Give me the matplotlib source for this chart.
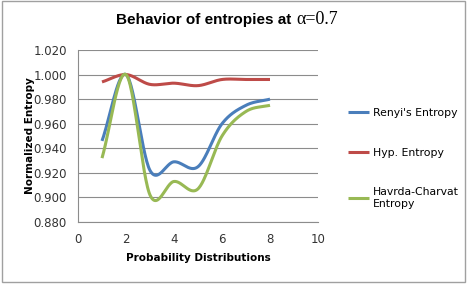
import numpy as np
import matplotlib
matplotlib.use("Agg")
import matplotlib.pyplot as plt
from matplotlib.patches import Rectangle

x = [1, 2, 3, 4, 5, 6, 7, 8]
renyi = [0.946, 1.000, 0.922, 0.929, 0.925, 0.960, 0.975, 0.980]
hyp = [0.994, 1.000, 0.992, 0.993, 0.991, 0.996, 0.996, 0.996]
havrda = [0.932, 1.000, 0.902, 0.913, 0.907, 0.950, 0.970, 0.975]
labels = ["Renyi's Entropy", "Hyp. Entropy", "Havrda-Charvat\nEntropy"]
colors = ["#4A7EBB", "#BE4B48", "#98B954"]
yticks = [0.880, 0.900, 0.920, 0.940, 0.960, 0.980, 1.000, 1.020]
xticks = [0, 2, 4, 6, 8, 10]


def smooth(xs, ys, n=30):
    xs = np.asarray(xs, float)
    ys = np.asarray(ys, float)
    P = np.column_stack([xs, ys])
    P = np.vstack([P[0] - (P[1] - P[0]), P, P[-1] + (P[-1] - P[-2])])
    out = []
    for i in range(1, len(P) - 2):
        p0, p1, p2, p3 = P[i - 1], P[i], P[i + 1], P[i + 2]
        m1 = (p2 - p0) / 2
        m2 = (p3 - p1) / 2
        t = np.linspace(0, 1, n)[:, None]
        h00 = 2 * t**3 - 3 * t**2 + 1
        h10 = t**3 - 2 * t**2 + t
        h01 = -2 * t**3 + 3 * t**2
        h11 = t**3 - t**2
        seg = h00 * p1 + h10 * m1 + h01 * p2 + h11 * m2
        out.append(seg if i == 1 else seg[1:])
    out = np.vstack(out)
    return out[:, 0], out[:, 1]


fig = plt.figure(figsize=(4.7, 2.84), dpi=100)
fig.patch.set_facecolor("white")
fig.add_artist(Rectangle((0.004, 0.006), 0.986, 0.99, transform=fig.transFigure,
                         fill=False, edgecolor="#A0A0A0", linewidth=1.0))

ax = fig.add_axes([78 / 470, 1 - 222 / 284, 240 / 470, 172 / 284])
for ys, c, lab in zip([renyi, hyp, havrda], colors, labels):
    sx, sy = smooth(x, ys)
    ax.plot(sx, sy, color=c, linewidth=2.2, label=lab, solid_capstyle="butt")

ax.set_xlim(0, 10)
ax.set_ylim(0.880, 1.020)
ax.set_xticks(xticks)
ax.set_yticks(yticks)
ax.set_yticklabels([f"{v:.3f}" for v in yticks])
ax.grid(axis="y", color="#8C8C8C", linewidth=0.8)
ax.set_axisbelow(True)
for s in ["top", "right"]:
    ax.spines[s].set_visible(False)
for s in ["left", "bottom"]:
    ax.spines[s].set_color("#8C8C8C")
    ax.spines[s].set_linewidth(0.8)
ax.tick_params(axis="both", colors="#8C8C8C", labelcolor="#333333", labelsize=8.5,
               length=0, pad=8)
ax.set_xlabel("Probability Distributions", fontsize=7.5, fontweight="bold",
              labelpad=5)
ax.set_ylabel("Normalized Entropy", fontsize=7.5, fontweight="bold", labelpad=-1)

handles, labs = ax.get_legend_handles_labels()
leg = fig.legend(handles, labs, loc="upper left", bbox_to_anchor=(338 / 470, 1 - 98 / 284),
                 frameon=False, fontsize=7.8, handlelength=2.0, handletextpad=0.3,
                 labelspacing=2.75)

fig.text(296 / 470, 1 - 20 / 284, "Behavior of entropies at ", ha="right", va="center",
         fontsize=11, fontweight="bold", family="Liberation Sans")
fig.text(296 / 470, 1 - 20 / 284, "\u03b1=0.7", ha="left", va="center",
         fontsize=13, family="Liberation Serif")

fig.savefig("out.png", dpi=100, facecolor="white")
